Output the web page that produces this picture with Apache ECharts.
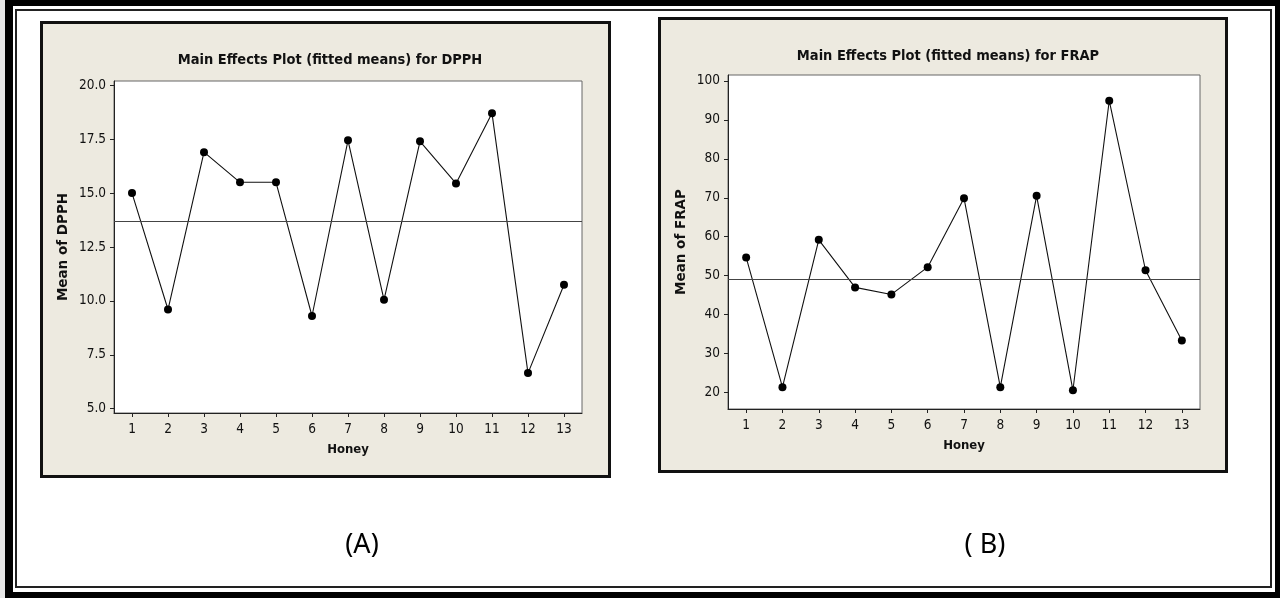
<!DOCTYPE html>
<html>
<head>
<meta charset="utf-8">
<script src="https://cdn.jsdelivr.net/npm/echarts@6/dist/echarts.min.js"></script>
<style>
html,body{margin:0;padding:0;background:#fff;}
#chart{width:1280px;height:598px;}
</style>
</head>
<body>
<div id="chart"></div>
<script>
// ---- data ----
const honey = [1, 2, 3, 4, 5, 6, 7, 8, 9, 10, 11, 12, 13];
const dpph = [15.0, 9.6, 16.9, 15.5, 15.5, 9.3, 17.45, 10.05, 17.4, 15.45, 18.7, 6.65, 10.75];
const frap = [54.7, 21.4, 59.2, 47.0, 45.2, 52.2, 69.9, 21.4, 70.5, 20.6, 94.9, 51.4, 33.4];
const dpphMean = 13.7;
const frapMean = 49.2;
const dpphTicks = [5.0, 7.5, 10.0, 12.5, 15.0, 17.5, 20.0];
const frapTicks = [20, 30, 40, 50, 60, 70, 80, 90, 100];
const titleA = 'Main Effects Plot (fitted means) for DPPH';
const titleB = 'Main Effects Plot (fitted means) for FRAP';
const yNameA = 'Mean of DPPH';
const yNameB = 'Mean of FRAP';
const xName = 'Honey';
const captionA = '(A)';
const captionB = '( B)';

const NARROW = '"Liberation Sans Narrow", "DejaVu Sans Condensed", "Liberation Sans", sans-serif';
const WIDE = '"DejaVu Sans", "Liberation Sans", sans-serif';
const PANEL = '#EDEAE0';

function pairs(xs, ys) { return xs.map((x, i) => [x, ys[i]]); }

function xAxis(grid) {
  return {
    type: 'value', gridIndex: grid, min: 0.5, max: 13.5,
    name: xName, nameLocation: 'middle', nameGap: 30,
    nameTextStyle: { fontFamily: NARROW, fontWeight: 'bold', fontSize: 13, color: '#111' },
    axisLine: { show: true, onZero: false, lineStyle: { color: '#222', width: 1 } },
    axisTick: { show: true, length: 4, customValues: honey, lineStyle: { color: '#222' } },
    axisLabel: { customValues: honey, fontFamily: NARROW, fontSize: 13.5, color: '#111', margin: 9 },
    splitLine: { show: false }
  };
}
function yAxis(grid, min, max, ticks, name, gap, fmt) {
  return {
    type: 'value', gridIndex: grid, min: min, max: max,
    name: name, nameLocation: 'middle', nameGap: gap, nameRotate: 90,
    nameTextStyle: { fontFamily: WIDE, fontWeight: 'bold', fontSize: 13.5, color: '#111' },
    axisLine: { show: true, onZero: false, lineStyle: { color: '#222', width: 1 } },
    axisTick: { show: true, length: 4, customValues: ticks, lineStyle: { color: '#222' } },
    axisLabel: { customValues: ticks, fontFamily: NARROW, fontSize: 13.5, color: '#111', margin: 8, formatter: fmt },
    splitLine: { show: false }
  };
}
function series(idx, ys, mean) {
  return {
    type: 'line', xAxisIndex: idx, yAxisIndex: idx,
    data: pairs(honey, ys),
    symbol: 'circle', symbolSize: 8,
    itemStyle: { color: '#000' },
    lineStyle: { color: '#111', width: 1.1 },
    z: 3,
    markLine: {
      silent: true, symbol: ['none', 'none'], label: { show: false },
      lineStyle: { color: '#444', width: 1, type: 'solid' },
      data: [{ yAxis: mean }]
    }
  };
}

const chart = echarts.init(document.getElementById('chart'), null, { renderer: 'canvas' });
chart.setOption({
  animation: false,
  backgroundColor: '#fff',
  graphic: [
    // outer frame
    { type: 'rect', shape: { x: 0, y: 0, width: 5, height: 598 }, style: { fill: '#e6e6e6' }, z: -10 },
    { type: 'rect', shape: { x: 5, y: 0, width: 1275, height: 6 }, style: { fill: '#000' }, z: -10 },
    { type: 'rect', shape: { x: 5, y: 592, width: 1275, height: 6 }, style: { fill: '#000' }, z: -10 },
    { type: 'rect', shape: { x: 5, y: 0, width: 8, height: 598 }, style: { fill: '#000' }, z: -10 },
    { type: 'rect', shape: { x: 1275, y: 0, width: 5, height: 598 }, style: { fill: '#000' }, z: -10 },
    { type: 'rect', shape: { x: 16, y: 10, width: 1255, height: 577 }, style: { fill: null, stroke: '#222', lineWidth: 2 }, z: -10 },
    // panels
    { type: 'rect', shape: { x: 41.5, y: 22.5, width: 568, height: 454 }, style: { fill: PANEL, stroke: '#111', lineWidth: 3 }, z: -9 },
    { type: 'rect', shape: { x: 659.5, y: 18.5, width: 567, height: 453 }, style: { fill: PANEL, stroke: '#111', lineWidth: 3 }, z: -9 },
    // captions
    { type: 'text', x: 362, y: 545, style: { text: captionA, fontFamily: '"Noto Sans", "Liberation Sans", sans-serif', fontSize: 27, fill: '#000', align: 'center', verticalAlign: 'middle' } },
    { type: 'text', x: 985, y: 545, style: { text: captionB, fontFamily: '"Noto Sans", "Liberation Sans", sans-serif', fontSize: 27, fill: '#000', align: 'center', verticalAlign: 'middle' } }
  ],
  title: [
    { text: titleA, left: 325, top: 48, textAlign: 'center',
      textStyle: { fontFamily: NARROW, fontWeight: 'bold', fontSize: 14.5, color: '#111' } },
    { text: titleB, left: 943, top: 44, textAlign: 'center',
      textStyle: { fontFamily: NARROW, fontWeight: 'bold', fontSize: 14.5, color: '#111' } }
  ],
  grid: [
    { left: 114, top: 81, width: 468, height: 332, show: true, backgroundColor: '#fff', borderColor: '#666', borderWidth: 1 },
    { left: 728, top: 75, width: 472, height: 334, show: true, backgroundColor: '#fff', borderColor: '#666', borderWidth: 1 }
  ],
  xAxis: [xAxis(0), xAxis(1)],
  yAxis: [
    yAxis(0, 4.8, 20.2, dpphTicks, yNameA, 44, v => v.toFixed(1)),
    yAxis(1, 15.8, 101.5, frapTicks, yNameB, 40, v => String(v))
  ],
  series: [series(0, dpph, dpphMean), series(1, frap, frapMean)]
});
</script>
</body>
</html>
